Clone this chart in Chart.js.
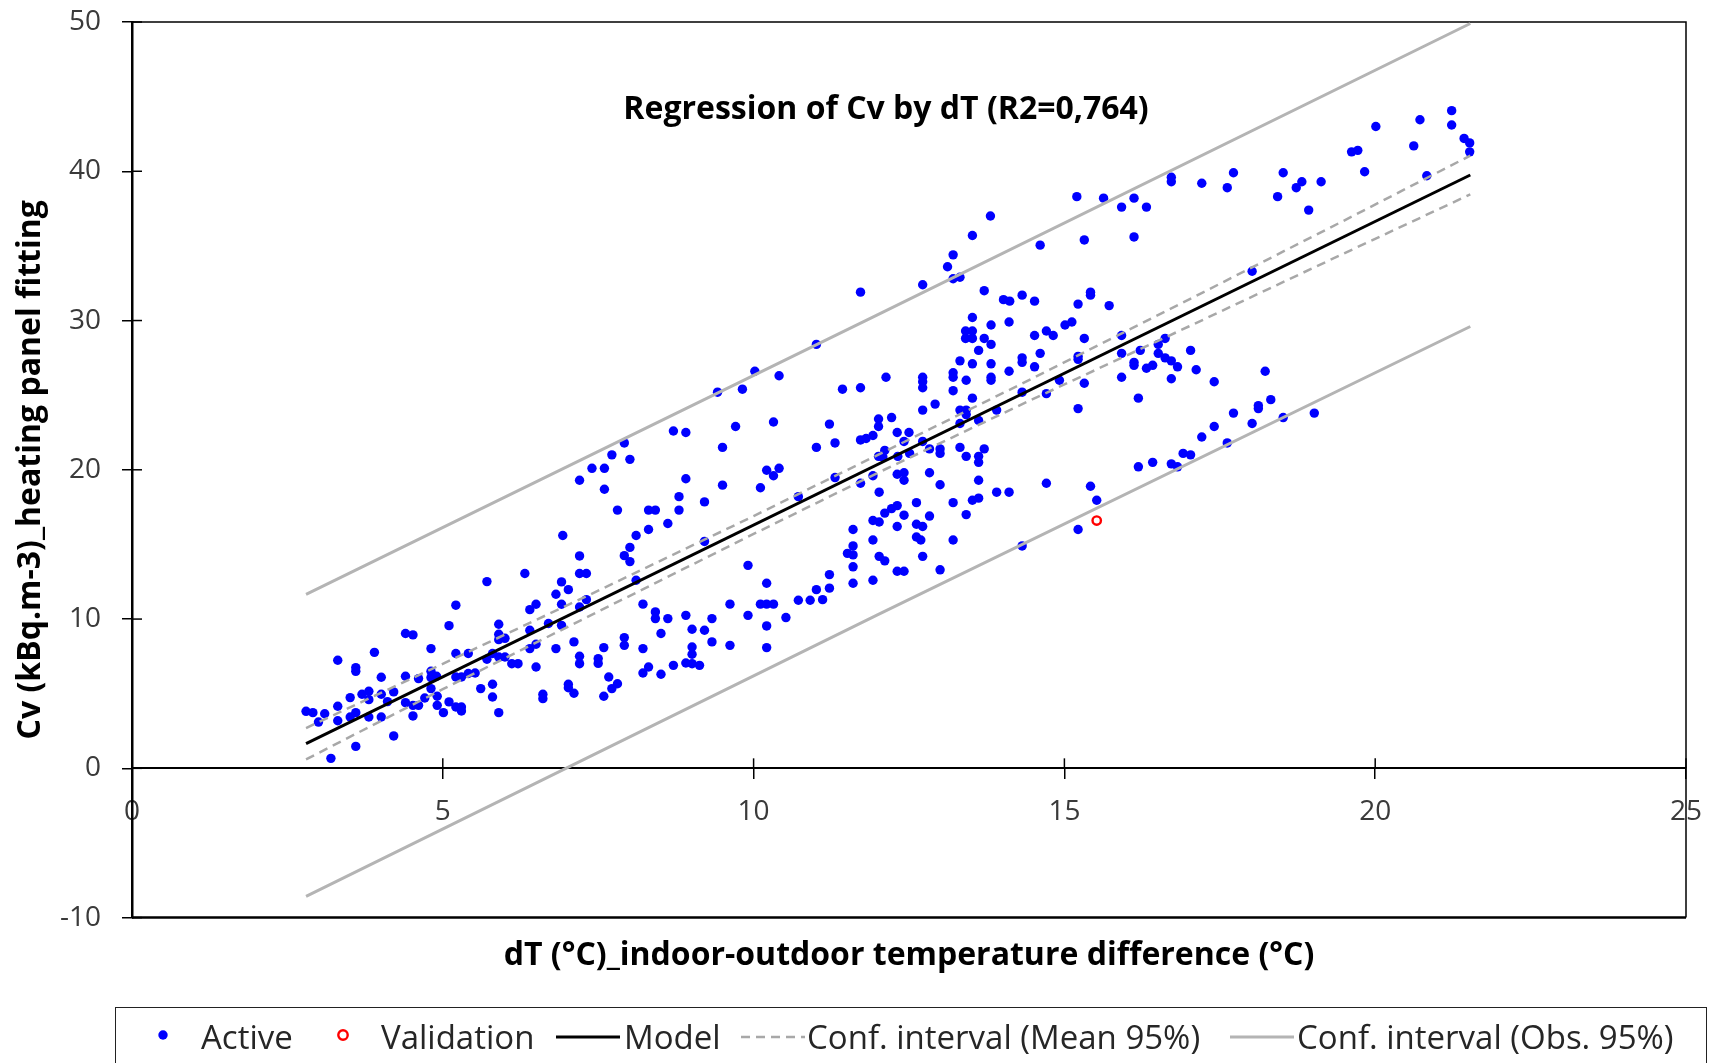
<!DOCTYPE html>
<html>
<head>
<meta charset="utf-8">
<script src="https://cdn.jsdelivr.net/npm/chart.js@4.4.1/dist/chart.umd.min.js"></script>
<style>
  html, body { margin:0; padding:0; background:#fff; overflow:hidden }
  #wrap { position:relative; width:1713px; height:1063px; font-family:"Open Sans", sans-serif }
  #c { position:absolute; left:0; top:0 }
  #ttl { position:absolute; left:886px; top:106px; transform:translate(-50%,-50%); font-weight:700; font-size:32px; color:#000; white-space:nowrap }
  #leg { position:absolute; left:115px; top:1007px; width:1592px; height:90px; border:1.5px solid #222; box-sizing:border-box }
  #leg .mk { position:absolute; top:28px; transform:translateY(-50%) }
  #leg .tx { position:absolute; top:28px; transform:translateY(-50%); font-size:33px; color:#262626; white-space:nowrap; line-height:1 }
</style>
</head>
<body>
<div id="wrap">
  <canvas id="c" width="1713" height="1063"></canvas>
  <div id="ttl">Regression of Cv by dT (R2=0,764)</div>
  <div id="leg"></div>
</div>
<script>
// axis ticks
const xTicks = [0, 5, 10, 15, 20, 25];
const yTicks = [-10, 0, 10, 20, 30, 40, 50];

// observations used for the fit [dT, Cv]
const active = [
  [2.80,3.82],[2.91,3.73],[3.00,3.10],[3.10,3.66],[3.20,0.67],[3.31,7.24],[3.31,4.16],[3.31,3.19],[3.51,4.74],[3.51,3.44],
  [3.60,6.75],[3.60,6.50],[3.60,3.73],[3.60,1.47],[3.70,4.96],[3.81,5.16],[3.81,4.60],[3.81,3.44],[3.90,7.77],[4.01,6.10],
  [4.01,4.96],[4.01,3.44],[4.11,4.47],[4.21,5.12],[4.21,2.17],[4.40,9.03],[4.52,8.94],[4.40,6.17],[4.40,4.40],[4.52,4.22],
  [4.52,3.51],[4.61,6.01],[4.61,4.22],[4.71,4.71],[4.81,8.02],[4.81,6.50],[4.81,6.08],[4.81,5.34],[4.90,6.17],[4.91,4.83],
  [4.91,4.22],[5.01,3.73],[5.10,9.56],[5.10,4.45],[5.21,10.93],[5.21,7.69],[5.21,6.12],[5.21,4.11],[5.30,6.12],[5.30,4.11],
  [5.30,3.84],[5.41,7.69],[5.41,6.35],[5.52,6.39],[5.61,5.34],[5.71,12.51],[5.71,7.31],[5.80,7.69],[5.80,5.63],[5.80,4.78],
  [5.90,9.65],[5.90,8.98],[5.90,8.62],[5.90,7.46],[5.90,3.73],[6.00,8.71],[6.00,7.46],[6.11,7.01],[6.21,7.01],[6.32,13.05],
  [6.40,10.63],[6.50,10.99],[6.40,9.25],[6.40,8.02],[6.50,8.31],[6.50,6.79],[6.61,4.96],[6.61,4.67],[6.70,9.70],[6.82,11.66],
  [6.82,8.02],[6.91,12.49],[6.91,10.99],[6.91,9.58],[7.02,11.97],[7.02,5.63],[7.02,5.40],[7.11,8.47],[7.11,5.03],[7.20,14.23],
  [7.20,13.05],[7.31,13.05],[7.20,10.81],[7.31,11.30],[7.20,7.51],[7.20,7.01],[7.50,7.35],[7.50,7.03],[7.59,8.09],[7.59,4.83],
  [7.67,6.12],
  [6.93,15.6],[7.20,19.3],[7.40,20.1],[7.60,20.1],[7.60,18.7],[7.72,21.0],[7.92,21.8],[8.01,20.7],[7.81,17.3],[7.92,14.25],
  [8.01,14.8],[8.01,13.85],[8.11,15.6],[8.11,12.6],[8.22,11.0],[7.81,5.67],[7.72,5.34],[7.92,8.76],[7.92,8.24],[8.31,17.3],
  [8.42,17.3],[8.31,16.0],[8.22,8.02],[8.22,6.39],[8.31,6.79],[8.42,10.48],[8.42,10.03],[8.51,9.03],[8.51,6.30],[8.62,16.4],
  [8.62,10.03],[8.71,22.6],[8.91,22.5],[8.71,6.90],[8.80,18.2],[8.80,17.3],[8.91,19.4],[8.91,10.25],[8.91,7.06],[9.01,9.32],
  [9.01,8.13],[9.01,7.64],[9.01,7.01],[9.13,6.90],[9.21,17.85],[9.21,15.2],[9.21,9.25],[9.33,10.03],[9.33,8.47],[9.50,21.5],
  [9.50,18.97],[9.62,11.0],[9.62,8.24],[9.71,22.9],[9.91,13.6],[9.91,10.25],[10.11,18.8],[10.11,11.0],[10.21,19.97],[10.32,19.6],
  [10.41,20.1],[10.21,12.4],[10.21,11.0],[10.21,9.54],[10.21,8.09],[10.32,11.0],[10.32,23.2],[10.52,10.1],[10.72,18.2],[10.72,11.26],
  [10.91,11.26],[11.01,21.5],[11.01,11.97],[11.11,11.3],[11.22,23.06],[11.22,12.98],[11.22,12.07],[11.31,21.8],[11.31,19.48],
  [9.42,25.2],[9.82,25.4],[10.02,26.6],[10.41,26.3],[11.01,28.4],
  [13.21,34.4],[13.12,33.6],[13.21,32.8],[13.32,32.9],[12.72,32.4],[11.72,31.9],[13.71,32.0],[14.02,31.4],[14.12,31.3],[14.32,31.7],
  [14.52,31.3],[15.42,31.9],[15.42,31.7],[15.22,31.1],[15.72,31.0],[13.52,30.2],[13.82,29.7],[14.11,29.9],[13.41,29.3],[13.41,28.8],
  [13.52,29.3],[13.52,28.8],[13.71,28.8],[13.82,28.4],[13.62,28.0],[14.52,29.0],[14.71,29.3],[14.82,29.0],[15.01,29.7],[15.12,29.9],
  [15.32,28.8],[15.92,29.0],[15.92,27.8],[16.12,27.2],[16.12,27.0],[13.32,27.3],[13.52,27.1],[13.82,27.1],[14.32,27.5],[14.32,27.2],
  [14.61,27.8],[14.52,26.9],[15.22,27.6],[15.22,27.4],[14.11,26.6],[13.21,26.5],[13.21,26.2],[12.72,26.2],[12.72,25.9],[12.72,25.5],
  [12.13,26.2],[11.43,25.4],[11.72,25.5],[13.42,26.0],[13.82,26.2],[13.82,26.0],[13.21,25.3],[13.52,24.8],[14.32,25.2],[14.71,25.1],
  [14.92,26.0],[15.32,25.8],[15.92,26.2],[15.22,24.1],[16.19,24.8],[12.92,24.4],[12.72,24.0],[13.32,24.0],[13.42,24.0],[13.42,23.7],
  [13.62,23.3],[13.32,23.1],[13.91,24.0],[12.22,23.5],[12.01,23.4],[12.01,22.9],[12.31,22.5],[12.50,22.5],[11.92,22.3],[11.81,22.1],
  [11.72,22.0],[12.42,21.9],[12.72,21.9],[12.11,21.3],[12.01,20.9],[12.08,20.85],[12.32,20.9],[12.51,21.1],[12.83,21.4],[13.00,21.4],
  [13.00,21.1],[13.32,21.5],[13.42,20.9],[13.62,20.9],[13.62,20.5],[13.71,21.4],[11.72,19.1],[11.92,19.6],[12.31,19.7],[12.42,19.8],
  [12.42,19.3],[12.83,19.8],[13.00,19.0],[12.02,18.5],[13.62,19.3],[12.62,17.8],[13.21,17.8],[12.31,17.6],[12.22,17.4],[12.11,17.1],
  [12.42,16.96],[12.83,16.9],[11.92,16.6],[12.02,16.5],[12.62,16.35],[12.72,16.2],[12.31,16.2],[13.42,17.0],[13.52,17.96],[13.62,18.1],
  [13.91,18.5],[14.11,18.5],[14.71,19.1],[15.42,18.9],[15.52,17.96],[11.60,16.0],[11.60,14.9],[11.51,14.4],[11.60,14.3],[11.60,13.5],
  [11.60,12.4],[11.92,15.3],[12.02,14.2],[12.11,13.9],[11.92,12.6],[12.31,13.2],[12.42,13.2],[12.72,14.2],[12.62,15.5],[12.69,15.3],
  [13.21,15.3],[13.00,13.3],[14.32,14.9],[15.22,16.0],[16.19,20.2],
  [15.20,38.3],[15.63,38.2],[15.92,37.6],[16.12,38.2],[15.32,35.4],[16.12,35.6],[13.52,35.7],[13.81,37.0],[14.61,35.05],
  [16.72,39.6],[16.72,39.3],[17.21,39.2],[17.62,38.9],[17.72,39.9],[18.43,38.3],[18.52,39.9],[18.73,38.9],[18.82,39.3],[19.13,39.3],
  [18.93,37.4],[16.32,37.6],[18.02,33.3],[16.62,28.8],[16.22,28.0],[16.51,28.4],[16.51,27.8],[16.62,27.5],[16.72,27.3],[16.32,26.8],
  [16.42,27.0],[16.82,26.9],[17.03,28.0],[17.12,26.7],[16.72,26.1],[17.41,25.9],[18.23,26.6],[18.32,24.7],[18.12,24.3],[18.12,24.1],
  [17.72,23.8],[18.02,23.1],[17.41,22.9],[17.21,22.2],[17.62,21.8],[18.52,23.5],[19.02,23.8],[16.91,21.1],[17.03,21.0],[16.42,20.5],
  [16.72,20.4],[16.82,20.2],
  [19.62,41.3],[19.72,41.4],[19.83,39.97],[20.01,43.0],[20.62,41.7],[20.72,43.45],[20.83,39.7],[21.23,44.06],[21.23,43.1],[21.43,42.2],
  [21.52,41.9],[21.52,41.3]
];

// validation observation
const validDT = [15.52];
const validCv = [16.6];

// regression line
const modelDT = [2.80, 21.53];
const modelCv = [1.65, 39.75];

// confidence interval of the mean (95%)
const meanDT = [2.8, 5, 7.5, 10, 12, 14.5, 17, 19.5, 21.53];
const meanUp = [2.7, 7.0, 11.9, 16.9, 21.0, 26.15, 31.4, 36.7, 41.05];
const meanLo = [0.6, 5.3, 10.5, 15.7, 19.8, 24.75, 29.6, 34.5, 38.45];

// confidence interval of the observations (95%)
const obsDT = [2.8, 12, 21.53];
const obsUp = [11.66, 30.4, 49.9];
const obsLo = [-8.58, 10.3, 29.6];

const FONT = '"Open Sans", sans-serif';
const xy = (xs, ys) => xs.map((x, i) => ({ x, y: ys[i] }));
const lineDS = (label, xs, ys, color, width, dash, order) =>
  ({ label, data: xy(xs, ys), showLine: true, borderColor: color, borderWidth: width, borderDash: dash, pointRadius: 0, fill: false, order });

const datasets = [
  lineDS('Model', modelDT, modelCv, '#000', 3, [], 0),
  lineDS('Conf. interval (Mean 95%)', meanDT, meanUp, '#a8a8a8', 2.5, [9, 6], 1),
  lineDS('', meanDT, meanLo, '#a8a8a8', 2.5, [9, 6], 1),
  lineDS('Conf. interval (Obs. 95%)', obsDT, obsUp, '#b4b4b4', 3, [], 2),
  lineDS('', obsDT, obsLo, '#b4b4b4', 3, [], 2),
  { label: 'Validation', data: xy(validDT, validCv), pointRadius: 4.2, pointBorderWidth: 2.4, borderColor: '#ff0000', backgroundColor: '#fff', order: 3 },
  { label: 'Active', data: active.map(p => ({ x: p[0], y: p[1] })), pointRadius: 4.7, borderWidth: 0, backgroundColor: '#0000ff', order: 4 }
];

// outer frame + inner half of the cross tick marks
const frame = {
  id: 'frame',
  beforeDatasetsDraw(c) {
    const { ctx, chartArea: a, scales: { x, y } } = c;
    ctx.save();
    ctx.strokeStyle = '#000';
    ctx.lineWidth = 1.5;
    ctx.beginPath(); ctx.moveTo(a.left, a.top); ctx.lineTo(a.right, a.top); ctx.lineTo(a.right, a.bottom); ctx.stroke();
    ctx.lineWidth = 2.5;
    ctx.beginPath(); ctx.moveTo(a.left, a.bottom); ctx.lineTo(a.right, a.bottom); ctx.stroke();
    ctx.lineWidth = 1.5;
    const y0 = y.getPixelForValue(0);
    xTicks.forEach(v => { const px = x.getPixelForValue(v); ctx.beginPath(); ctx.moveTo(px, y0); ctx.lineTo(px, y0 - 10); ctx.stroke() });
    yTicks.forEach(v => { const py = y.getPixelForValue(v); ctx.beginPath(); ctx.moveTo(a.left, py); ctx.lineTo(a.left + 10, py); ctx.stroke() });
    ctx.restore();
  }
};

const chart = new Chart(document.getElementById('c'), {
  type: 'scatter',
  data: { datasets },
  plugins: [frame],
  options: {
    responsive: false, animation: false, devicePixelRatio: 1,
    layout: { padding: { top: 22, right: 27, bottom: 88, left: 0 } },
    plugins: {
      legend: { display: false }, tooltip: { enabled: false },
      title: { display: true, position: 'bottom', fullSize: false, text: 'dT (°C)_indoor-outdoor temperature difference (°C)',
        color: '#000', font: { family: FONT, size: 32, weight: 'bold' }, padding: { top: 19, bottom: 0 } }
    },
    scales: {
      x: { type: 'linear', position: { y: 0 }, min: 0, max: 25,
        afterBuildTicks: s => { s.ticks = xTicks.map(v => ({ value: v })) },
        afterFit: s => { s.paddingLeft = 0; s.paddingRight = 0 },
        grid: { drawOnChartArea: false, tickLength: 10, color: '#000', lineWidth: 1.5 },
        border: { color: '#000', width: 2 },
        ticks: { color: '#3a3a3a', font: { family: FONT, size: 28 }, padding: 17, maxRotation: 0, autoSkip: false } },
      y: { type: 'linear', position: 'left', min: -10, max: 50,
        afterBuildTicks: s => { s.ticks = yTicks.map(v => ({ value: v })) },
        afterFit: s => { s.width = 132; s.paddingTop = 0; s.paddingBottom = 0 },
        grid: { drawOnChartArea: false, tickLength: 10, color: '#000', lineWidth: 1.5 },
        border: { color: '#000', width: 2.5 },
        ticks: { color: '#3a3a3a', font: { family: FONT, size: 28 }, padding: 21 },
        title: { display: true, text: 'Cv (kBq.m-3)_heating panel fitting', color: '#000',
          font: { family: FONT, size: 32, weight: 'bold' }, padding: { top: 12 } } }
    }
  }
});

// legend built from the datasets
const legItems = [
  { label: 'Active', kind: 'dot', mx: 162, tx: 200 },
  { label: 'Validation', kind: 'ring', mx: 342, tx: 380 },
  { label: 'Model', kind: 'line', mx: 555, tx: 623 },
  { label: 'Conf. interval (Mean 95%)', kind: 'line', mx: 740, tx: 806 },
  { label: 'Conf. interval (Obs. 95%)', kind: 'line', mx: 1229, tx: 1296 }
];
const leg = document.getElementById('leg');
legItems.forEach(it => {
  const d = chart.data.datasets.find(s => s.label === it.label);
  let svg;
  if (it.kind === 'line') {
    svg = `<svg width="64" height="10"><line x1="0" y1="5" x2="64" y2="5" stroke="${d.borderColor}" stroke-width="${d.borderWidth}" stroke-dasharray="${(d.borderDash || []).join(',')}"/></svg>`;
    svg = `<div class="mk" style="left:${it.mx - 115}px">${svg}</div>`;
  } else {
    const fill = it.kind === 'dot' ? d.backgroundColor : '#fff';
    const stroke = it.kind === 'dot' ? 'none' : d.borderColor;
    svg = `<div class="mk" style="left:${it.mx - 115 - 7}px"><svg width="14" height="14"><circle cx="7" cy="7" r="4.7" fill="${fill}" stroke="${stroke}" stroke-width="2.4"/></svg></div>`;
  }
  leg.insertAdjacentHTML('beforeend', svg + `<div class="tx" style="left:${it.tx - 115}px">${it.label}</div>`);
});
</script>
</body>
</html>
